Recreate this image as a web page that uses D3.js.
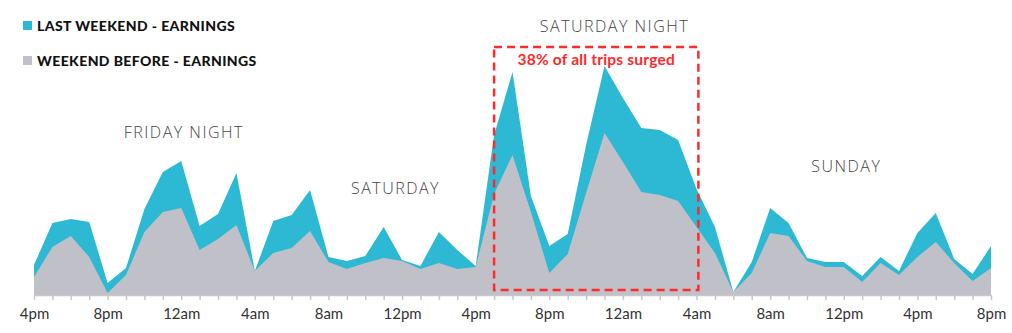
<!DOCTYPE html>
<html>
<head>
<meta charset="utf-8">
<script src="https://cdn.jsdelivr.net/npm/d3@7"></script>
<style>
  html, body { margin: 0; padding: 0; background: #fff; }
  svg { display: block; }
</style>
</head>
<body>
<svg id="chart" width="1012" height="333"></svg>
<script>
// ---- data (hourly, Friday 4pm -> Sunday 8pm) ----
const hours = d3.range(0, 53);
const lastWeekend = [30, 72, 76, 73, 12, 27, 86, 123, 134, 69, 81, 122, 24,
  74, 80, 105, 38, 34, 39, 68, 35, 29, 63, 45, 29,
  160, 223, 99, 49, 61, 150, 229, 197, 167, 165, 155, 106, 68, 3,
  33, 87, 72, 37, 33, 33, 19, 38, 24, 62, 82, 36, 21, 49];
const weekendBefore = [18, 48, 59, 38, 2, 20, 63, 83, 87, 45, 56, 70, 24,
  42, 47, 64, 33, 26, 32, 37, 34, 26, 32, 26, 28,
  101, 140, 83, 22, 41, 102, 162, 133, 103, 100, 94, 68, 42, 3,
  22, 62, 59, 34, 28, 28, 13, 32, 20, 38, 53, 32, 14, 27];
const tickLabels = ["4pm","8pm","12am","4am","8am","12pm","4pm","8pm","12am","4am","8am","12pm","4pm","8pm"];
const seriesNames = ["LAST WEEKEND - EARNINGS", "WEEKEND BEFORE - EARNINGS"];
const dayLabels = [
  {text: "FRIDAY NIGHT", hour: 8.1},
  {text: "SATURDAY", hour: 19.6},
  {text: "SATURDAY NIGHT", hour: 31.5},
  {text: "SUNDAY", hour: 44.1}
];
const surgeNote = "38% of all trips surged";
const surgeRange = [25, 36.1];

// ---- styles ----
const cyan = "#2db9d3";
const gray = "#c0c0c8";
const red = "#ff2a2a";

const svg = d3.select("#chart");
const x = d3.scaleLinear().domain([0, 52]).range([34, 991]);
const y = d3.scaleLinear().domain([0, 230]).range([295, 65]);

const area = vals => d3.area()
  .x((d, i) => x(hours[i]))
  .y0(y(0))
  .y1(d => y(d))(vals);

svg.append("path").attr("d", area(lastWeekend)).attr("fill", cyan);
svg.append("path").attr("d", area(weekendBefore)).attr("fill", gray);

// axis
const axis = d3.axisBottom(x)
  .tickValues(hours)
  .tickSize(5)
  .tickSizeOuter(0)
  .tickPadding(8)
  .tickFormat(h => h % 4 === 0 ? tickLabels[h / 4] : "");
const gAxis = svg.append("g").attr("transform", `translate(0,${y(0)})`).call(axis);
gAxis.select(".domain").attr("stroke", "#c8c8c8").attr("stroke-width", 1.5);
gAxis.selectAll(".tick line").attr("stroke", "#c8c8c8").attr("stroke-width", 1.5);
gAxis.selectAll(".tick text")
  .attr("fill", "#333")
  .attr("font-family", "Lato, 'Open Sans', sans-serif")
  .attr("font-size", 15);

// legend
const legend = svg.append("g");
[cyan, gray].forEach((c, i) => {
  const yy = 21 + i * 35;
  legend.append("rect").attr("x", 23).attr("y", yy).attr("width", 9).attr("height", 9).attr("fill", c);
  legend.append("text").attr("x", 37).attr("y", yy + 9.5)
    .attr("font-family", "Lato, sans-serif").attr("font-weight", 900)
    .attr("font-size", 14).attr("fill", "#111")
    .attr("letter-spacing", 0.4)
    .text(seriesNames[i]);
});

// day labels
const dayY = {"FRIDAY NIGHT": 138, "SATURDAY": 194, "SATURDAY NIGHT": 31.5, "SUNDAY": 172};
dayLabels.forEach(d => {
  svg.append("text").attr("x", x(d.hour) + 0.75).attr("y", dayY[d.text])
    .attr("text-anchor", "middle")
    .attr("font-family", "'Open Sans', Lato, sans-serif").attr("font-weight", 300)
    .attr("font-size", 16).attr("fill", "#444")
    .attr("letter-spacing", 1.5)
    .text(d.text);
});

// surge box
svg.append("rect")
  .attr("x", x(surgeRange[0])).attr("y", 47)
  .attr("width", x(surgeRange[1]) - x(surgeRange[0])).attr("height", 243)
  .attr("fill", "none").attr("stroke", red).attr("stroke-width", 2.5)
  .attr("stroke-dasharray", "8,5");
svg.append("text").attr("x", (x(surgeRange[0]) + x(surgeRange[1])) / 2).attr("y", 64.5)
  .attr("text-anchor", "middle")
  .attr("font-family", "Lato, sans-serif").attr("font-weight", 700)
  .attr("font-size", 15.5).attr("fill", red)
  .attr("letter-spacing", 0.2)
  .text(surgeNote);
</script>
</body>
</html>
